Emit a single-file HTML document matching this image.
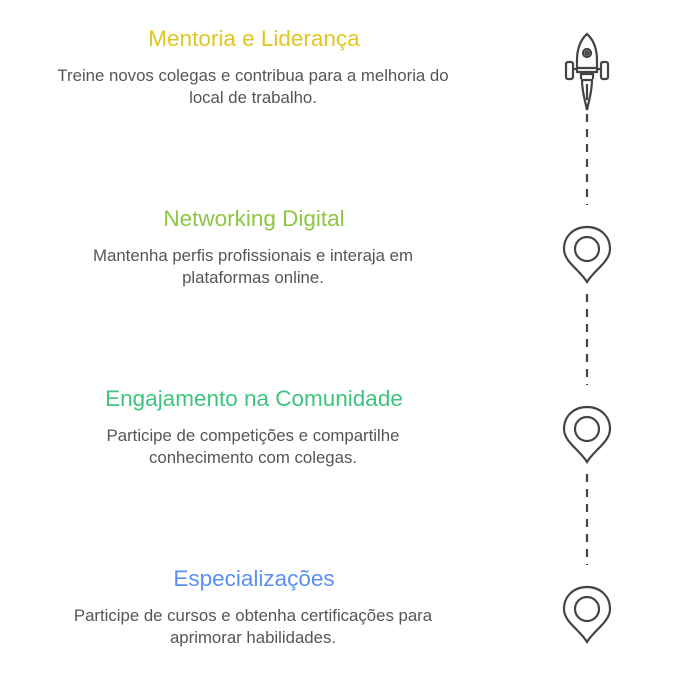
<!DOCTYPE html>
<html><head><meta charset="utf-8"><style>
html,body{margin:0;padding:0;background:#fff;}
svg{display:block;}
text{font-family:"Liberation Sans",Arial,sans-serif;}
.t{font-size:22.5px;text-anchor:middle;}
.d{font-size:16.8px;fill:#555;text-anchor:middle;}
</style></head><body>
<svg width="675" height="675" viewBox="0 0 675 675">
<text class="t" x="254" y="46" fill="#e2c61f">Mentoria e Liderança</text>
<text class="d" x="253" y="81">Treine novos colegas e contribua para a melhoria do</text>
<text class="d" x="253" y="103">local de trabalho.</text>
<text class="t" x="254" y="226" fill="#8dc63f">Networking Digital</text>
<text class="d" x="253" y="261">Mantenha perfis profissionais e interaja em</text>
<text class="d" x="253" y="283">plataformas online.</text>
<text class="t" x="254" y="406" fill="#3ec47c">Engajamento na Comunidade</text>
<text class="d" x="253" y="441">Participe de competições e compartilhe</text>
<text class="d" x="253" y="463">conhecimento com colegas.</text>
<text class="t" x="254" y="586" fill="#5b8ff0">Especializações</text>
<text class="d" x="253" y="621">Participe de cursos e obtenha certificações para</text>
<text class="d" x="253" y="643">aprimorar habilidades.</text>
<g stroke="#444" stroke-width="2.2" fill="none">
<line x1="587" y1="114" x2="587" y2="205" stroke-dasharray="8,7"/>
<line x1="587" y1="294" x2="587" y2="385" stroke-dasharray="8,7"/>
<line x1="587" y1="474" x2="587" y2="565" stroke-dasharray="8,7"/>
<path d="M587 34 C580 40 577 50 577 60 L577 72 L597 72 L597 60 C597 50 594 40 587 34 Z"/>
<circle cx="587" cy="53" r="4"/>
<circle cx="587" cy="53" r="1.5"/>
<line x1="577" y1="68" x2="597" y2="68"/>
<rect x="566" y="62" width="7" height="17" rx="2"/>
<rect x="601" y="62" width="7" height="17" rx="2"/>
<line x1="573" y1="69" x2="577" y2="69"/><line x1="597" y1="69" x2="601" y2="69"/>
<path d="M581 79 L581 74 L593 74 L593 79"/>
<path d="M582 80 C582 92 585 100 587 110 C589 100 592 92 592 80 Z"/>
<path d="M587 84 L587 100"/>
<path d="M587 282 C580 270 564 262 564 249 C564 236 574 227 587 227 C600 227 610 236 610 249 C610 262 594 270 587 282 Z"/>
<circle cx="587" cy="249" r="12"/>
<path d="M587 462 C580 450 564 442 564 429 C564 416 574 407 587 407 C600 407 610 416 610 429 C610 442 594 450 587 462 Z"/>
<circle cx="587" cy="429" r="12"/>
<path d="M587 642 C580 630 564 622 564 609 C564 596 574 587 587 587 C600 587 610 596 610 609 C610 622 594 630 587 642 Z"/>
<circle cx="587" cy="609" r="12"/>
</g>
</svg>
</body></html>
